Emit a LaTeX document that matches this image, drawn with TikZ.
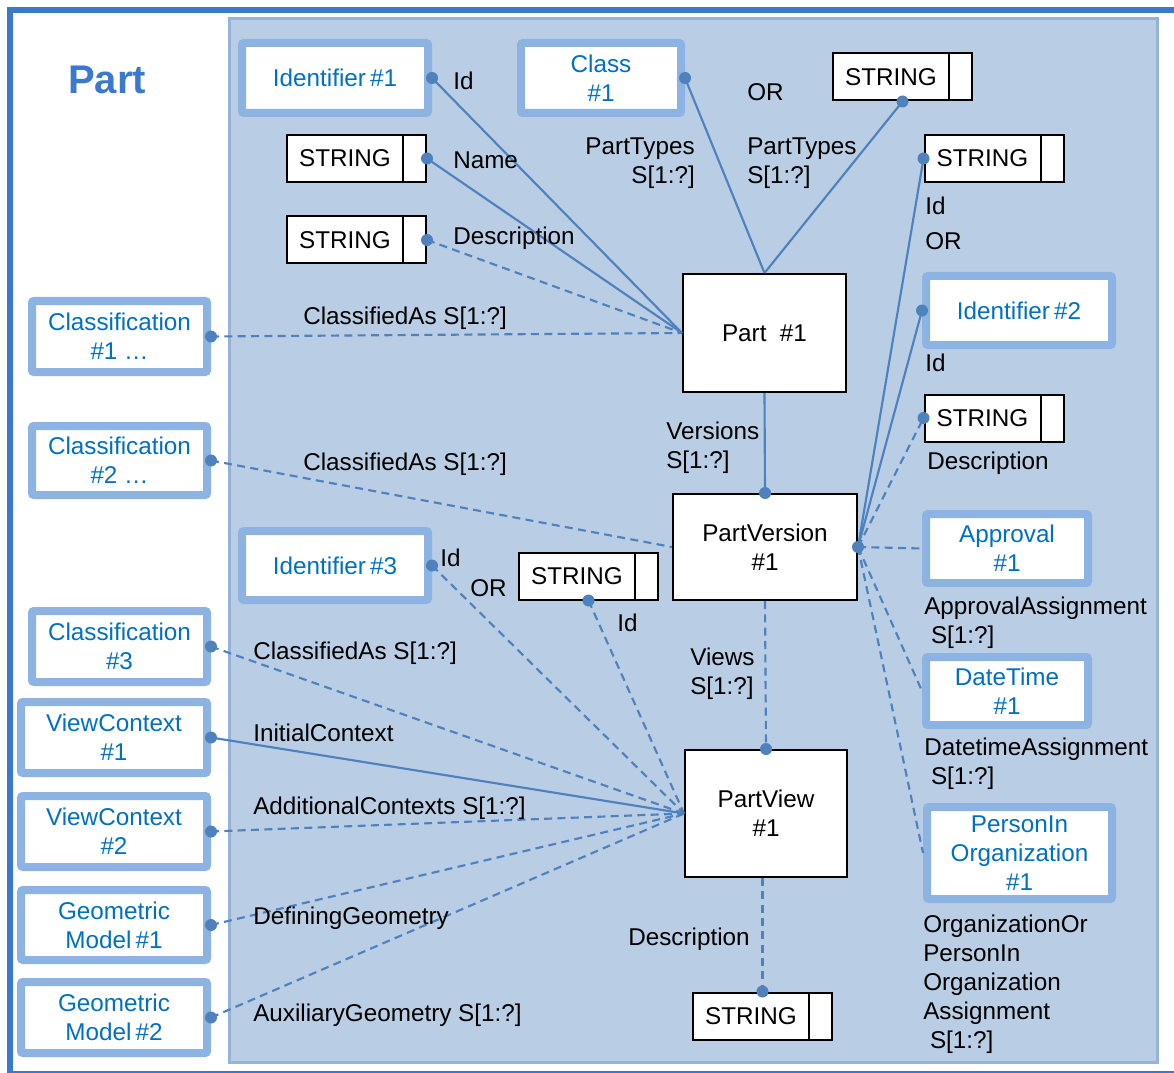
\documentclass[tikz,border=0pt]{standalone}
\usepackage{fontspec}
\setmainfont{Liberation Sans}
\definecolor{connc}{HTML}{4F81BD}
\definecolor{bordc}{HTML}{8DB3E2}
\definecolor{textc}{HTML}{0070C0}
\definecolor{panelc}{HTML}{B9CDE5}
\definecolor{paneledge}{HTML}{95B3D7}
\definecolor{framec}{HTML}{3B79CF}
\newcommand{\strtxt}{\makebox[87pt]{STRING}\hspace*{17.25pt}}
\begin{document}
\begin{tikzpicture}[x=0.75pt,y=-0.75pt,
  every node/.style={font=\fontsize{18.2pt}{21.75pt}\selectfont},
  conn/.style={draw=connc, line width=1.6pt},
  dashc/.style={conn, dash pattern=on 6pt off 4pt},
  bbox/.style={draw=bordc, line width=6pt, fill=white, rounded corners=1.5pt, text=textc, align=center, inner sep=0pt},
  kbox/.style={draw=black, line width=1.5pt, fill=white, align=center, inner sep=0pt},
  strbox/.style={draw=black, line width=1.5pt, fill=white, inner sep=0pt, minimum width=104.25pt, minimum height=35.25pt,
    path picture={\draw[line width=1.5pt] ([xshift=-17.25pt]path picture bounding box.north east) -- ([xshift=-17.25pt]path picture bounding box.south east);}},
  lbl/.style={anchor=north west, inner sep=0pt, align=left},
  dotc/.style={circle, fill=connc, inner sep=0pt, minimum size=9pt}
]
\useasboundingbox (0,0) rectangle (1174,1073);
% frame and panel
\draw[framec, line width=4.5pt] (10,10) rectangle (1182,1074);
\draw[fill=panelc, draw=paneledge, line width=2.25pt] (229,19) rectangle (1157,1062);
\node[text=framec, font=\bfseries\fontsize{30pt}{36pt}\selectfont] (title) at (107,80) {Part};

% blue reference boxes
\node[bbox, minimum width=139.5pt, minimum height=52.5pt] (id1) at (335,78) {Identifier\,\#1};
\node[bbox, minimum width=120pt, minimum height=52.5pt] (cls) at (601,78) {Class\\\#1};
\node[bbox, minimum width=139.5pt, minimum height=51.75pt] (id2) at (1019,310.5) {Identifier\,\#2};
\node[bbox, minimum width=121.5pt, minimum height=51.75pt] (appr) at (1007,548.5) {Approval\\\#1};
\node[bbox, minimum width=121.5pt, minimum height=51pt] (dt) at (1007,691) {DateTime\\\#1};
\node[bbox, minimum width=138.75pt, minimum height=69pt] (pio) at (1019.5,853) {PersonIn\\Organization\\\#1};
\node[bbox, minimum width=139.5pt, minimum height=51.75pt] (id3) at (335,565.5) {Identifier\,\#3};
\node[bbox, minimum width=131.25pt, minimum height=53.25pt] (c1) at (119.5,336.5) {Classification\\\#1 …};
\node[bbox, minimum width=131.25pt, minimum height=51.75pt] (c2) at (119.5,460.5) {Classification\\\#2 …};
\node[bbox, minimum width=131.25pt, minimum height=53.25pt] (c3) at (119.5,646.5) {Classification\\\#3};
\node[bbox, minimum width=139.5pt, minimum height=53.25pt] (vc1) at (114,737.5) {ViewContext\\\#1};
\node[bbox, minimum width=139.5pt, minimum height=53.25pt] (vc2) at (114,831.5) {ViewContext\\\#2};
\node[bbox, minimum width=139.5pt, minimum height=52.5pt] (gm1) at (114,925) {Geometric\\Model\,\#1};
\node[bbox, minimum width=139.5pt, minimum height=53.25pt] (gm2) at (114,1017.5) {Geometric\\Model\,\#2};

% main entity boxes
\node[kbox, minimum width=122.25pt, minimum height=88.5pt] (part) at (764.5,333) {Part\ \ \#1};
\node[kbox, minimum width=138pt, minimum height=79.5pt] (pv) at (765,547) {PartVersion\\\#1};
\node[kbox, minimum width=121.5pt, minimum height=95.25pt] (pview) at (766,813.5) {PartView\\\#1};

% STRING boxes
\node[strbox] (sname) at (356.5,158.5) {\strtxt};
\node[strbox] (sdesc) at (356.5,240) {\strtxt};
\node[strbox] (stop) at (902.5,77) {\strtxt};
\node[strbox] (sid) at (994,158.5) {\strtxt};
\node[strbox] (sdesc2) at (994,418) {\strtxt};
\node[strbox] (sid3) at (588.5,576) {\strtxt};
\node[strbox] (spv) at (762.5,1016) {\strtxt};

% connectors
\draw[conn] (id1.east) -- (part.west);
\draw[conn] (sname.east) -- (part.west);
\draw[dashc] (sdesc.east) -- (part.west);
\draw[dashc] (c1.east) -- (part.west);
\draw[conn] (cls.east) -- (part.north);
\draw[conn] (stop.south) -- (part.north);
\draw[conn] (part.south) -- (pv.north);
\draw[dashc] (c2.east) -- (pv.west);
\draw[conn] (pv.east) -- (sid.west);
\draw[conn] (pv.east) -- (id2.west);
\draw[dashc] (pv.east) -- (sdesc2.west);
\draw[dashc] (pv.east) -- (appr.west);
\draw[dashc] (pv.east) -- (dt.west);
\draw[dashc] (pv.east) -- (pio.west);
\draw[dashc] (pv.south) -- (pview.north);
\draw[dashc] (id3.east) -- (pview.west);
\draw[dashc] (sid3.south) -- (pview.west);
\draw[dashc] (c3.east) -- (pview.west);
\draw[conn] (vc1.east) -- (pview.west);
\draw[dashc] (vc2.east) -- (pview.west);
\draw[dashc] (gm1.east) -- (pview.west);
\draw[dashc] (gm2.east) -- (pview.west);
\draw[dashc] (pview.south -| spv.north) -- (spv.north);

% dots
\node[dotc] (d1) at (id1.east) {};
\node[dotc] (d2) at (sname.east) {};
\node[dotc] (d3) at (sdesc.east) {};
\node[dotc] (d4) at (c1.east) {};
\node[dotc] (d5) at (cls.east) {};
\node[dotc] (d6) at (stop.south) {};
\node[dotc] (d7) at (pv.north) {};
\node[dotc] (d8) at (c2.east) {};
\node[dotc] (d9) at (pv.east) {};
\node[dotc] (d10) at (sid.west) {};
\node[dotc] (d11) at (id2.west) {};
\node[dotc] (d12) at (sdesc2.west) {};
\node[dotc] (d13) at (pview.north) {};
\node[dotc] (d14) at (id3.east) {};
\node[dotc] (d15) at (sid3.south) {};
\node[dotc] (d16) at (c3.east) {};
\node[dotc] (d17) at (vc1.east) {};
\node[dotc] (d18) at (vc2.east) {};
\node[dotc] (d19) at (gm1.east) {};
\node[dotc] (d20) at (gm2.east) {};
\node[dotc] (d21) at (spv.north) {};

% labels
\node[lbl] (l1) at (453,71.5) {Id};
\node[lbl] (l2) at (453,151.5) {Name};
\node[lbl] (l3) at (453,226.5) {Description};
\node[anchor=north east, inner sep=0pt, align=right] (l4) at (695,137.5) {PartTypes\\S[1:?]};
\node[lbl] (l5) at (747,83.5) {OR};
\node[lbl] (l6) at (747,137.5) {PartTypes\\S[1:?]};
\node[lbl] (l7) at (925,196.5) {Id};
\node[lbl] (l8) at (925,232.5) {OR};
\node[lbl] (l9) at (925,353.5) {Id};
\node[lbl] (l10) at (927,451.5) {Description};
\node[lbl] (l11) at (303,306.5) {ClassifiedAs S[1:?]};
\node[lbl] (l12) at (303,452.5) {ClassifiedAs S[1:?]};
\node[lbl] (l13) at (666,421.5) {Versions\\S[1:?]};
\node[lbl] (l14) at (440,548.5) {Id};
\node[lbl] (l15) at (470,579.5) {OR};
\node[lbl] (l16) at (617,613.5) {Id};
\node[lbl] (l17) at (690,647.5) {Views\\S[1:?]};
\node[lbl] (l18) at (253,641.5) {ClassifiedAs S[1:?]};
\node[lbl] (l19) at (253,723.5) {InitialContext};
\node[lbl] (l20) at (253,796.5) {AdditionalContexts S[1:?]};
\node[lbl] (l21) at (253,906.5) {DefiningGeometry};
\node[lbl] (l22) at (253,1003.5) {AuxiliaryGeometry S[1:?]};
\node[lbl] (l23) at (628,927.5) {Description};
\node[lbl] (l24) at (924,596.5) {ApprovalAssignment\\\ S[1:?]};
\node[lbl] (l25) at (924,737.5) {DatetimeAssignment\\\ S[1:?]};
\node[lbl] (l26) at (923,914.5) {OrganizationOr\\PersonIn\\Organization\\Assignment\\\ S[1:?]};
\end{tikzpicture}
\end{document}
